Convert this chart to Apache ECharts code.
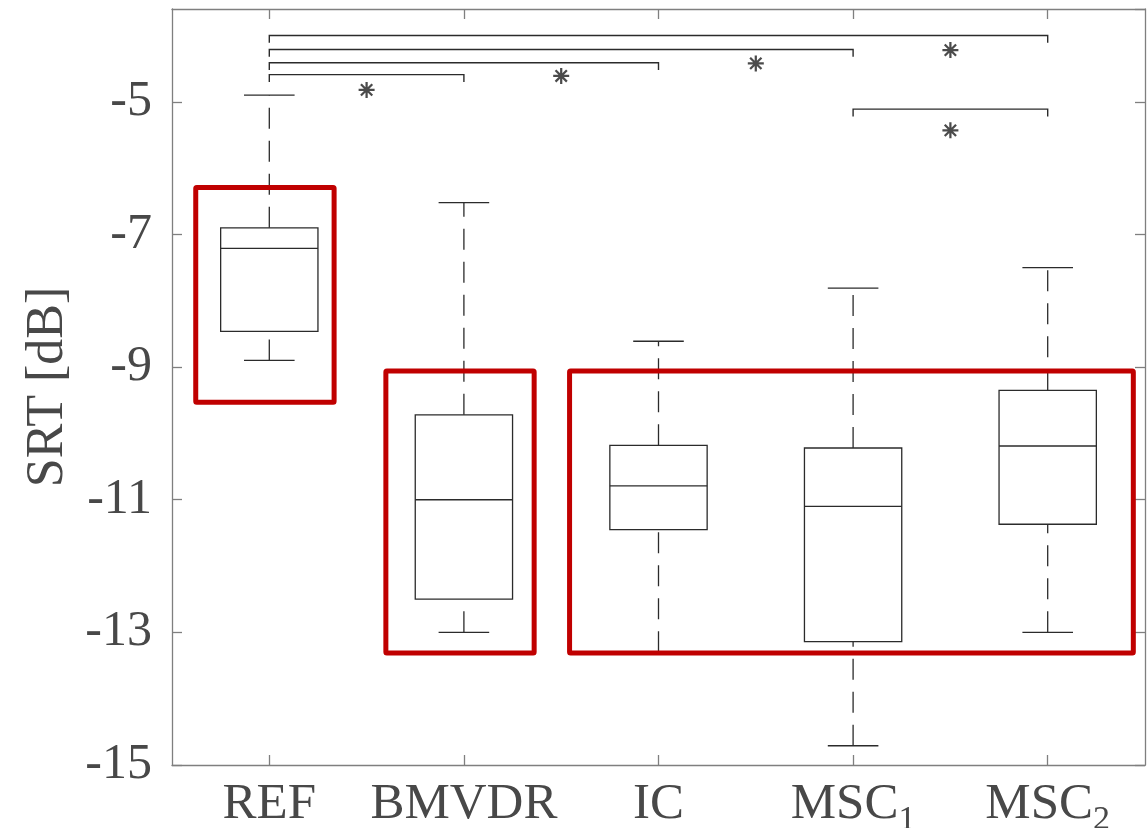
<!DOCTYPE html>
<html><head><meta charset="utf-8">
<script src="https://cdn.jsdelivr.net/npm/echarts@6/dist/echarts.min.js"></script>
<style>html,body{margin:0;padding:0;background:#fff}#c{width:1148px;height:828px}</style>
</head><body><div id="c"></div>
<script>
// ---- data ----
const categories = ['REF', 'BMVDR', 'IC', 'MSC1', 'MSC2'];
const lowerWhisker = [-8.90, -13.0, -13.3, -14.71, -13.0];
const quartile1   = [-8.46, -12.5, -11.45, -13.14, -11.37];
const medians     = [-7.21, -11.0, -10.79, -11.10, -10.19];
const quartile3   = [-6.90, -9.72, -10.18, -10.22, -9.35];
const upperWhisker = [-4.90, -6.52, -8.61, -7.81, -7.50];
const yTickValues = [-15, -13, -11, -9, -7, -5];
// significance brackets (category index from/to, height in dB)
const bracketFrom = [0, 0, 0, 0, 3];
const bracketTo   = [1, 2, 3, 4, 4];
const bracketY    = [-4.59, -4.41, -4.21, -4.00, -5.11];
// asterisks (position between categories, height in dB)
const starX = [0.5, 1.5, 2.5, 3.5, 3.5];
const starY = [-4.82, -4.61, -4.42, -4.22, -5.43];
// red highlight frames (category-unit x range, dB y range)
const frameX1 = [-0.378, 0.599, 1.543];
const frameX2 = [0.333, 1.361, 4.440];
const frameTop = [-6.29, -9.06, -9.06];
const frameBottom = [-9.53, -13.31, -13.31];

// ---- style ----
const FONT = "'Liberation Serif', 'DejaVu Serif', serif";
const TXT = '#484848';
const AX = '#7f7f7f';
const INK = '#2b2b2b';

const boxData = categories.map((c, i) => [i, lowerWhisker[i], quartile1[i], medians[i], quartile3[i], upperWhisker[i]]);
const bracketData = bracketFrom.map((f, i) => [f, bracketTo[i], bracketY[i]]);
const starData = starX.map((x, i) => [x, starY[i]]);
const frameData = frameX1.map((x, i) => [x, frameX2[i], frameTop[i], frameBottom[i]]);

const starPath = 'path://M43 0L57 0L57 100L43 100Z M0 43L100 43L100 57L0 57Z M9.6 19.5L19.5 9.6L90.4 80.5L80.5 90.4Z M80.5 9.6L90.4 19.5L19.5 90.4L9.6 80.5Z';

const chart = echarts.init(document.getElementById('c'), null, {renderer: 'canvas'});
const axisLineStyle = {color: AX, width: 1.3};
chart.setOption({
  animation: false,
  backgroundColor: '#fff',
  grid: {left: 172, right: 3, top: 9, bottom: 63, containLabel: false, outerBoundsMode: 'none'},
  xAxis: [
    {
      type: 'category', data: categories, position: 'bottom', boundaryGap: true,
      axisLine: {show: true, onZero: false, lineStyle: axisLineStyle},
      axisTick: {show: true, inside: true, length: 10, alignWithLabel: true, lineStyle: axisLineStyle},
      axisLabel: {
        margin: 8,
        formatter: v => v.startsWith('MSC') ? '{m|MSC}{s|' + v.slice(3) + '}' : '{m|' + v + '}',
        rich: {
          m: {fontFamily: FONT, fontSize: 51, color: TXT, lineHeight: 64},
          s: {fontFamily: FONT, fontSize: 34, color: TXT, lineHeight: 34, verticalAlign: 'bottom'}
        }
      },
      splitLine: {show: false}
    },
    {
      type: 'category', data: categories, position: 'top', boundaryGap: true,
      axisLine: {show: true, onZero: false, lineStyle: axisLineStyle},
      axisTick: {show: true, inside: true, length: 10, alignWithLabel: true, lineStyle: axisLineStyle},
      axisLabel: {show: false}, splitLine: {show: false}
    },
    {
      type: 'value', min: -0.5, max: 4.5, show: false, splitLine: {show: false},
      axisLine: {show: false, onZero: false}
    }
  ],
  yAxis: [
    {
      type: 'value', min: -15, max: -3.6, interval: 2, position: 'left',
      name: 'SRT [dB]', nameLocation: 'middle', nameGap: 96,
      nameTextStyle: {fontFamily: FONT, fontSize: 52, color: TXT},
      axisLine: {show: true, onZero: false, lineStyle: axisLineStyle},
      axisTick: {show: true, inside: true, length: 10, lineStyle: axisLineStyle},
      axisLabel: {
        margin: 20, fontFamily: FONT, fontSize: 50, color: TXT, showMaxLabel: false,
        formatter: v => yTickValues.indexOf(v) >= 0 ? String(v) : ''
      },
      splitLine: {show: false}
    },
    {
      type: 'value', min: -15, max: -3.6, interval: 2, position: 'right',
      axisLine: {show: true, onZero: false, lineStyle: axisLineStyle},
      axisTick: {show: true, inside: true, length: 10, lineStyle: axisLineStyle},
      axisLabel: {show: false}, splitLine: {show: false}
    }
  ],
  series: [
    {
      type: 'custom', xAxisIndex: 0, yAxisIndex: 0, data: boxData, z: 3,
      renderItem: function (params, api) {
        const i = api.value(0);
        const x = api.coord([i, api.value(3)])[0];
        const yLo = api.coord([i, api.value(1)])[1];
        const yQ1 = api.coord([i, api.value(2)])[1];
        const yMed = api.coord([i, api.value(3)])[1];
        const yQ3 = api.coord([i, api.value(4)])[1];
        const yHi = api.coord([i, api.value(5)])[1];
        const bandW = api.size([1, 0])[0];
        const bw = bandW * 0.5, cw = bandW * 0.26;
        const solid = {stroke: INK, lineWidth: 1.3, fill: null};
        const dashed = {stroke: INK, lineWidth: 1.3, lineDash: [21, 12], fill: null};
        return {
          type: 'group', children: [
            {type: 'line', shape: {x1: x, y1: yLo, x2: x, y2: yQ1}, style: dashed},
            {type: 'line', shape: {x1: x, y1: yQ3, x2: x, y2: yHi}, style: dashed},
            {type: 'line', shape: {x1: x - cw / 2, y1: yLo, x2: x + cw / 2, y2: yLo}, style: solid},
            {type: 'line', shape: {x1: x - cw / 2, y1: yHi, x2: x + cw / 2, y2: yHi}, style: solid},
            {type: 'rect', shape: {x: x - bw / 2, y: yQ3, width: bw, height: yQ1 - yQ3}, style: {stroke: INK, lineWidth: 1.3, fill: 'rgba(0,0,0,0)'}},
            {type: 'line', shape: {x1: x - bw / 2, y1: yMed, x2: x + bw / 2, y2: yMed}, style: solid}
          ]
        };
      }
    },
    {
      type: 'custom', xAxisIndex: 2, yAxisIndex: 0, data: bracketData, z: 3,
      renderItem: function (params, api) {
        const drop = 0.11;
        const a = api.value(0), b = api.value(1), y = api.value(2);
        const p1 = api.coord([a, y - drop]), p2 = api.coord([a, y]);
        const p3 = api.coord([b, y]), p4 = api.coord([b, y - drop]);
        return {type: 'polyline', shape: {points: [p1, p2, p3, p4]}, style: {stroke: INK, lineWidth: 1.4, fill: null}};
      }
    },
    {
      type: 'scatter', xAxisIndex: 2, yAxisIndex: 0, data: starData, z: 4,
      symbol: starPath, symbolSize: 16, itemStyle: {color: '#1e1e1e'}, silent: true
    },
    {
      type: 'custom', xAxisIndex: 2, yAxisIndex: 0, data: frameData, z: 10,
      renderItem: function (params, api) {
        const tl = api.coord([api.value(0), api.value(2)]);
        const br = api.coord([api.value(1), api.value(3)]);
        return {type: 'rect', shape: {x: tl[0], y: tl[1], width: br[0] - tl[0], height: br[1] - tl[1], r: 1},
          style: {stroke: '#c00000', lineWidth: 5, fill: 'rgba(0,0,0,0)', lineJoin: 'round'}};
      }
    }
  ]
});
</script></body></html>
